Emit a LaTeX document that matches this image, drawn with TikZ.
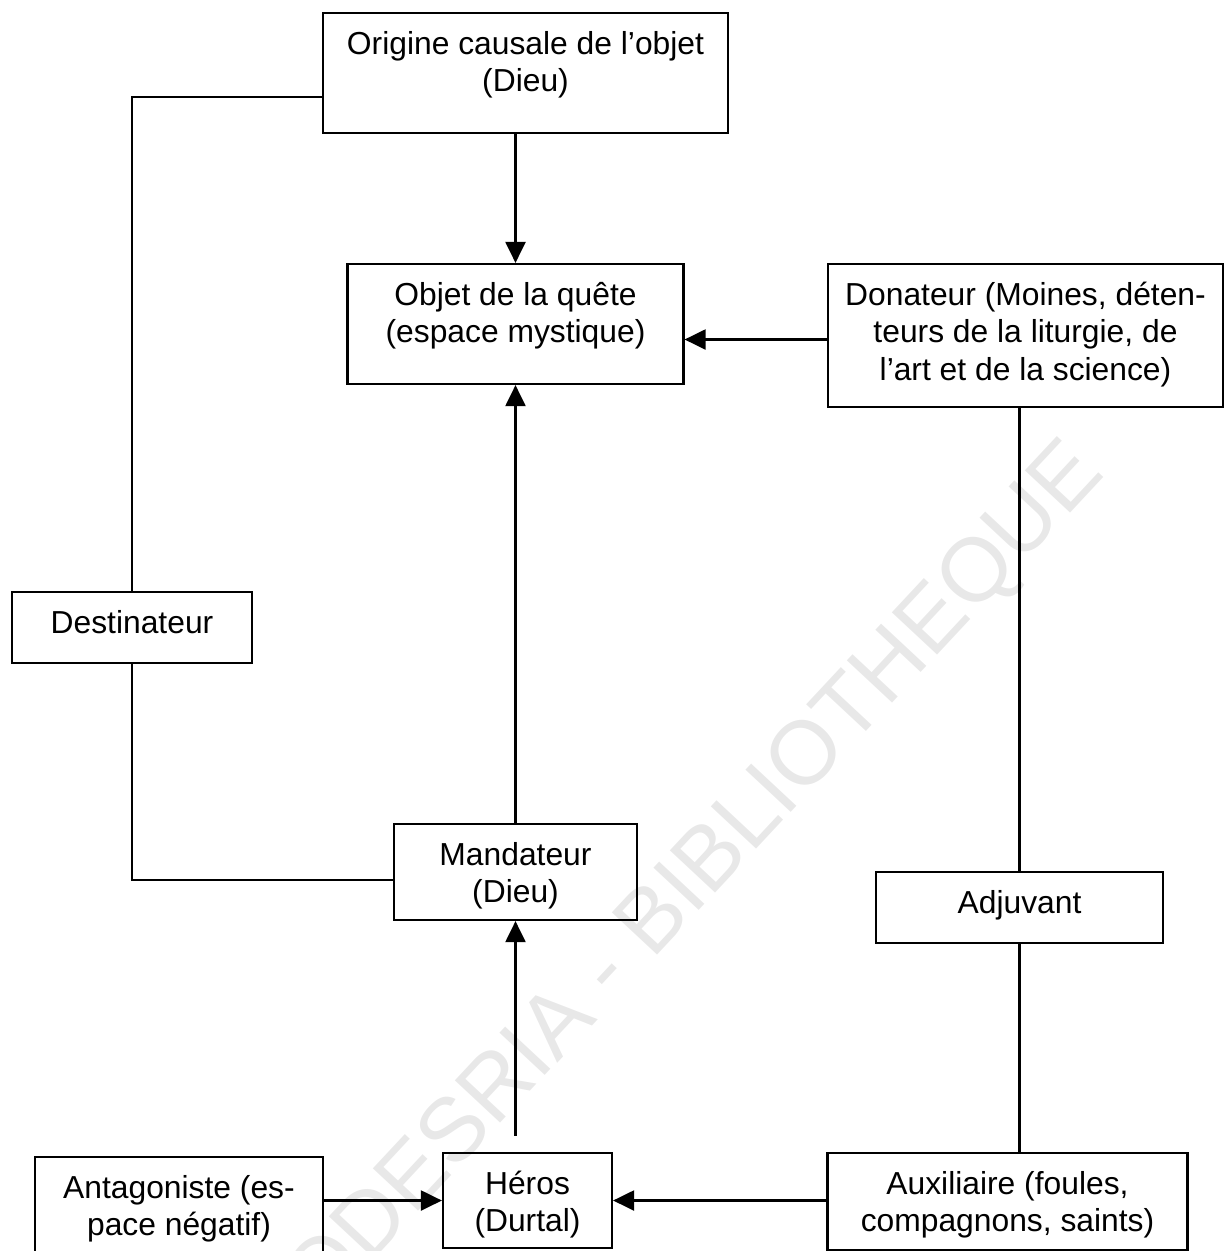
\documentclass[tikz,border=0pt]{standalone}
\usepackage{fontspec}
\setmainfont{Liberation Sans}
\usepackage{tikz}
\usetikzlibrary{arrows.meta}
\newcommand{\actant}[3]{\parbox[t][#2][t]{#1}{\centering\rule{0pt}{41pt}#3}}

\begin{document}
\begin{tikzpicture}[x=1pt, y=-1pt,
    box/.style={draw, line width=2.2pt, inner sep=0pt, font=\fontsize{31.8}{37.5}\selectfont},
    link/.style={line width=2.2pt},
    arr/.style={link, -{Triangle[length=21pt,width=20pt]}}]
    \useasboundingbox (0,0) rectangle (1224,1251);
    % watermark
    \node[rotate=47, text=black!9, font=\fontsize{90}{90}\selectfont] (wmark) at (675,903) {CODESRIA - BIBLIOTHEQUE};
    % actants
    \node[box] (orig) at (525.5,73) {\actant{405pt}{120pt}{Origine causale de l’objet\\(Dieu)}};
    \node[box] (objet) at (515.5,324) {\actant{336pt}{120pt}{Objet de la quête\\(espace mystique)}};
    \node[box] (don) at (1025.5,335.5) {\actant{395pt}{143pt}{Donateur (Moines, déten-\\teurs de la liturgie, de\\l’art et de la science)}};
    \node[box] (dest) at (132,627.5) {\actant{240pt}{71pt}{Destinateur}};
    \node[box] (mand) at (515.5,872) {\actant{243pt}{96pt}{Mandateur\\(Dieu)}};
    \node[box] (adj) at (1019.5,907.5) {\actant{287pt}{71pt}{Adjuvant}};
    \node[box] (ant) at (179,1205) {\actant{288pt}{96pt}{Antagoniste (es-\\pace négatif)}};
    \node[box] (heros) at (527.5,1200.5) {\actant{169pt}{95pt}{Héros\\(Durtal)}};
    \node[box] (aux) at (1007.5,1201.5) {\actant{360pt}{97pt}{Auxiliaire (foules,\\compagnons, saints)}};
    % links
    \draw[arr] (orig.south -| objet.north) -- (objet.north);
    \draw[arr] ([yshift=-4pt]don.west) -- ([yshift=-4pt]don.west -| objet.east);
    \draw[arr] (mand.north) -- (objet.south);
    \draw[arr] ([yshift=16pt]heros.north -| mand.south) -- (mand.south);
    \draw[arr] (ant.east |- heros.west) -- (heros.west);
    \draw[arr] (aux.west |- heros.east) -- (heros.east);
    \draw[link] ([yshift=-24pt]orig.west) -| (dest.north);
    \draw[link] (dest.south) |- ([yshift=-8pt]mand.west);
    \draw[link] (adj.north |- don.south) -- (adj.north);
    \draw[link] (adj.south) -- (adj.south |- aux.north);
\end{tikzpicture}
\end{document}
